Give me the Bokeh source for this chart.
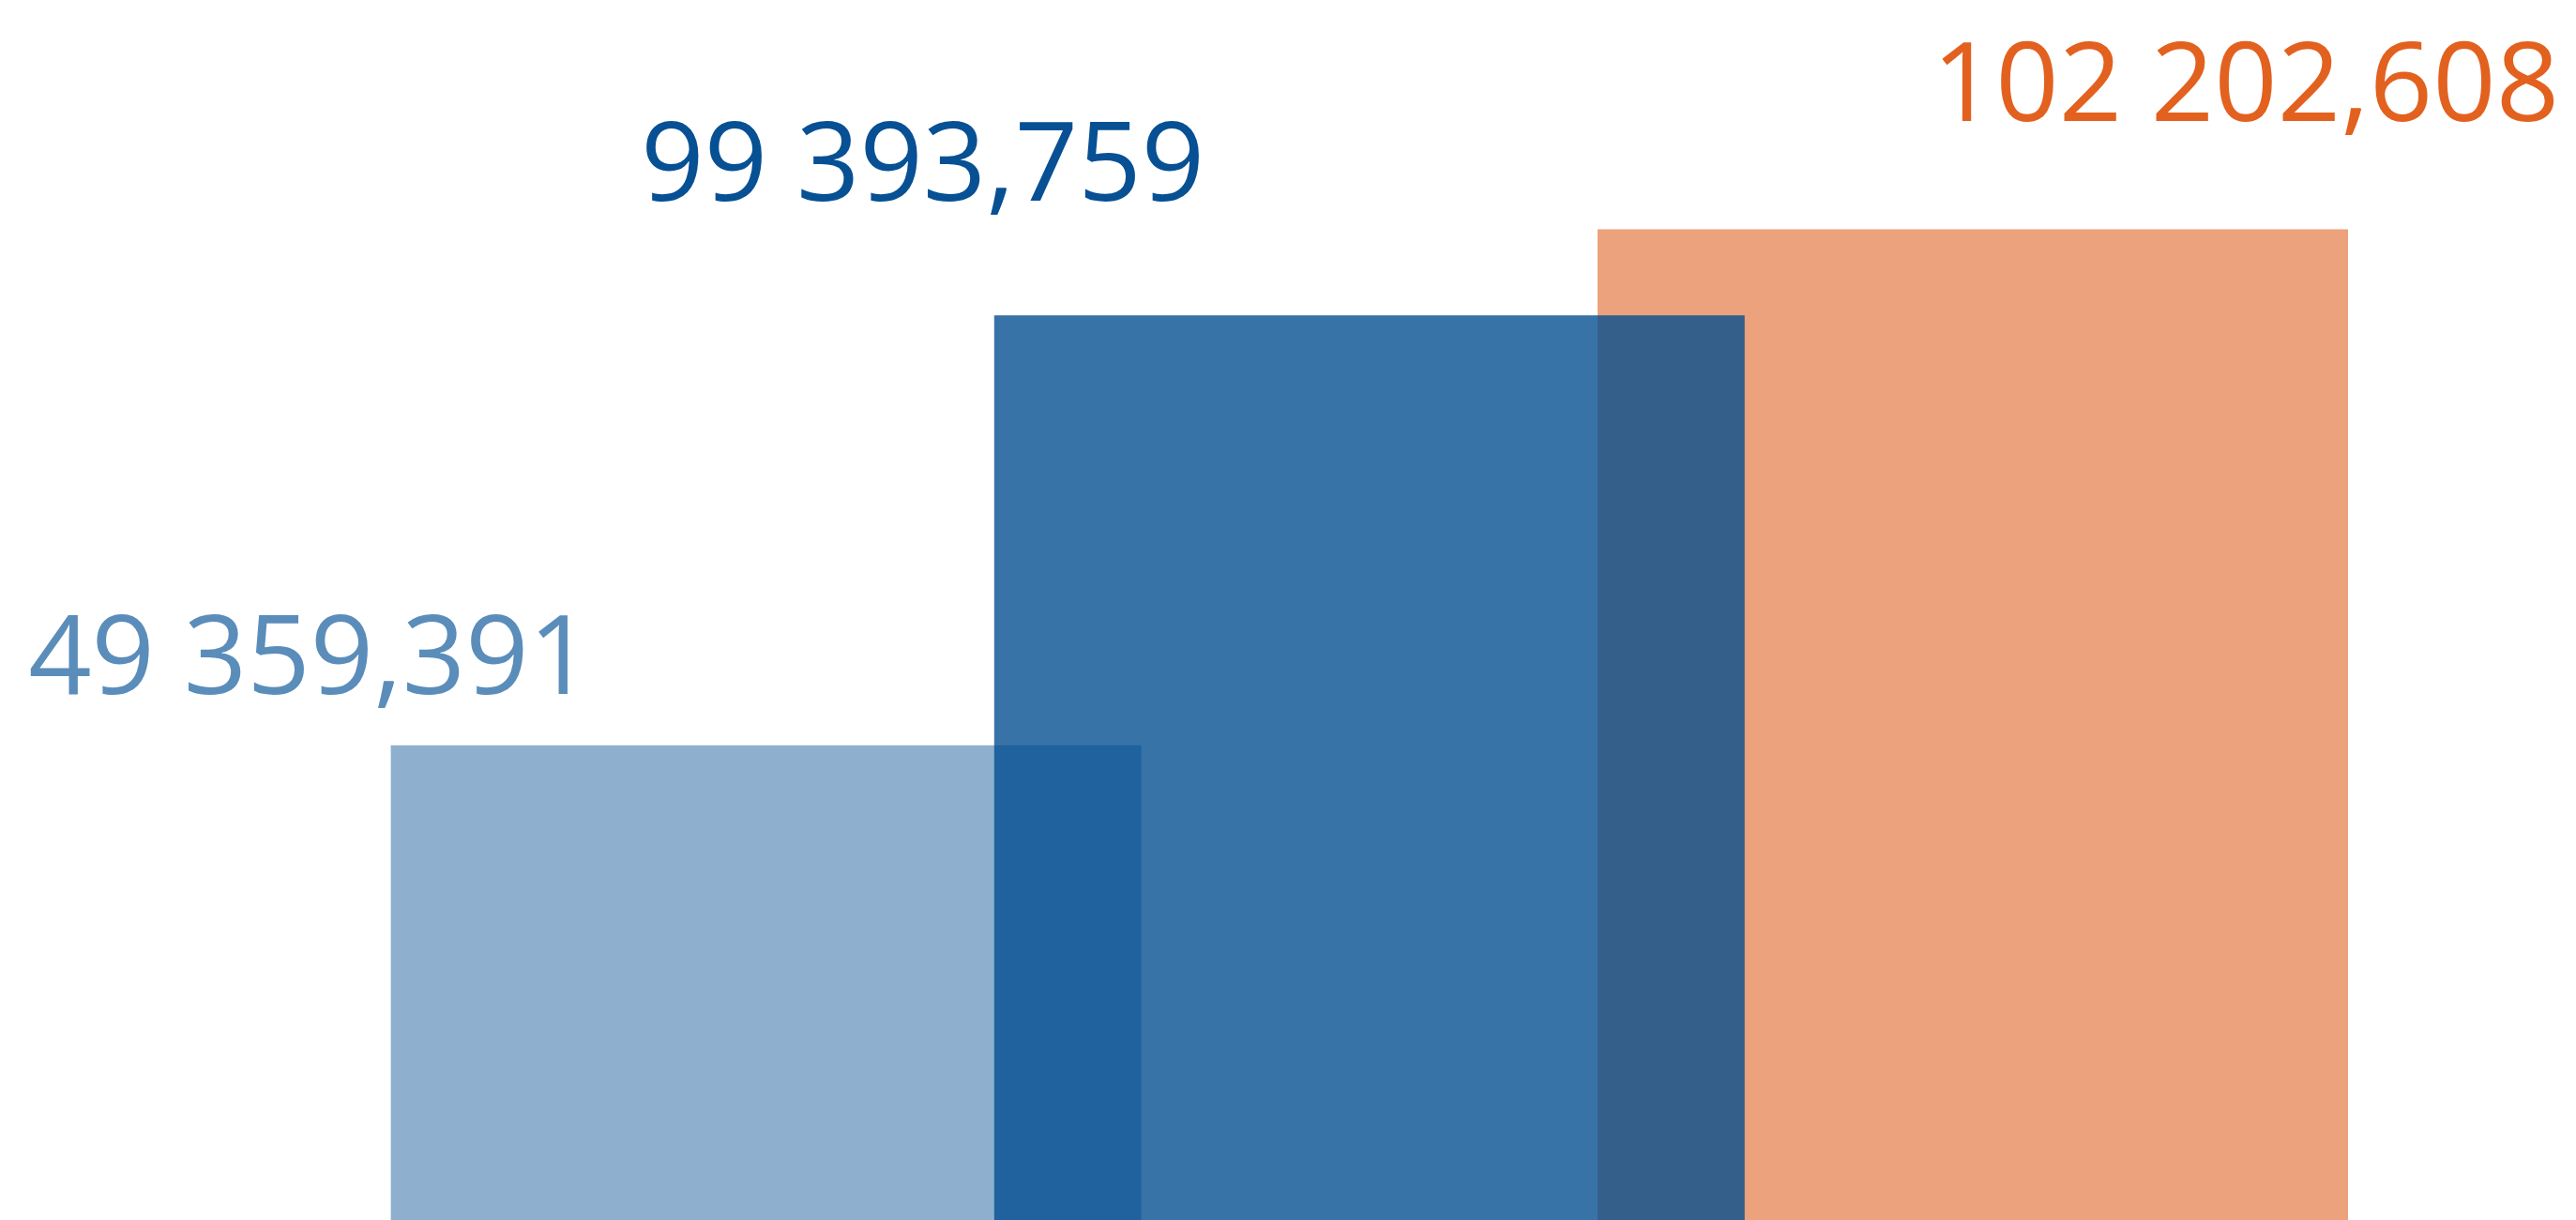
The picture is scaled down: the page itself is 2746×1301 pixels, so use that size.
from bokeh.plotting import figure
from bokeh.models import Range1d
from bokeh.core.properties import value
from bokeh.embed import file_html
from bokeh.resources import INLINE

# ---- data ----
series = ["A", "B", "C"]
label_values = [49359391, 99393759, 102202608]          # printed values
bar_heights_m = [49.36, 93.4, 102.2]                      # bar lengths as drawn (millions)
bar_colors = ["#8EB0CE", "#004C90", "#ECA27C"]
bar_alphas = [1.0, 0.78, 1.0]
label_colors = ["#5B8DBB", "#075094", "#E2611F"]


def fmt(v):
    s = f"{v:,}"
    parts = s.split(",")
    return " ".join(parts[:-1]) + "," + parts[-1]


labels = [fmt(v) for v in label_values]

# ---- layout constants (pixels) ----
W, H = 2746, 1301
SPACING_PX = 643.2
FIRST_CENTER_PX = 816.1
BAR_W = 800 / SPACING_PX
x0 = -FIRST_CENTER_PX / SPACING_PX
x1 = x0 + W / SPACING_PX
PX_PER_M = 10.41
BASE_PX = 1308
y_top = BASE_PX / PX_PER_M
y_bot = (BASE_PX - H) / PX_PER_M

p = figure(width=W, height=H, output_backend="svg", toolbar_location=None,
           x_range=Range1d(x0, x1), y_range=Range1d(y_bot, y_top),
           min_border=0, min_border_left=0, min_border_right=0,
           min_border_top=0, min_border_bottom=0)
p.axis.visible = False
p.grid.visible = False
p.outline_line_color = None
p.background_fill_color = "white"
p.border_fill_color = "white"

xs = list(range(len(series)))
# light blue and orange first, translucent dark blue on top
for i in [0, 2, 1]:
    p.vbar(x=[xs[i]], top=[bar_heights_m[i]], bottom=0, width=BAR_W,
           fill_color=bar_colors[i], fill_alpha=bar_alphas[i], line_color=None)

label_dx_px = [-486, -476, 291]
label_dy_px = [100, 168, 161]
for i in range(len(series)):
    p.text(x=[xs[i] + label_dx_px[i] / SPACING_PX],
           y=[bar_heights_m[i] + label_dy_px[i] / PX_PER_M],
           text=[labels[i]],
           text_align="center", text_baseline="alphabetic",
           text_font=value("Open Sans"), text_font_size="118px",
           text_color=label_colors[i])

open("out.html", "w").write(file_html(p, INLINE))
